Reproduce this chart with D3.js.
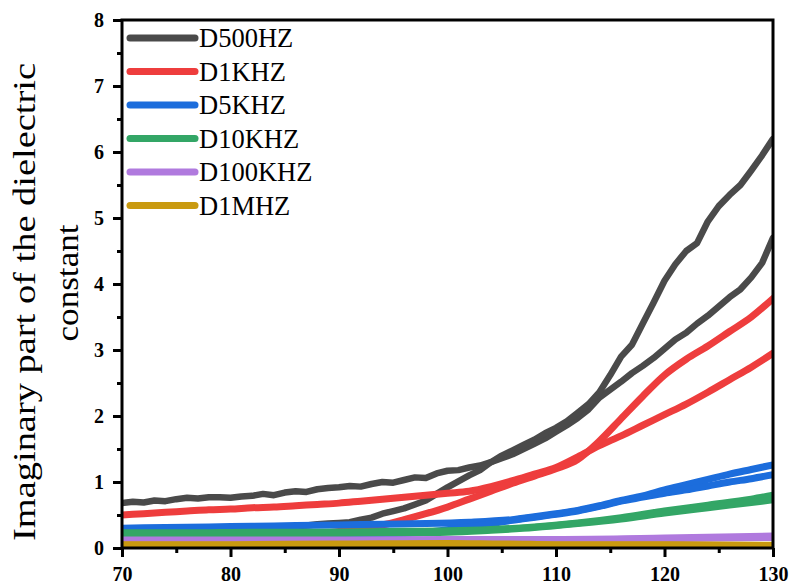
<!DOCTYPE html>
<html>
<head>
    <meta charset="UTF-8">
    <title>Imaginary part of the dielectric constant</title>
    <script src="https://d3js.org/d3.v7.min.js"></script>
    <style>
        body { margin: 0; background: #fff; }
        svg { display: block; }
        .series { fill: none; stroke-linejoin: round; stroke-linecap: round; }
    </style>
</head>
<body>
<script>
// temperatures (1 degree steps) for the noisy 500 Hz runs
const tempsFine = [70, 71, 72, 73, 74, 75, 76, 77, 78, 79, 80, 81, 82, 83, 84, 85, 86, 87, 88, 89,
    90, 91, 92, 93, 94, 95, 96, 97, 98, 99, 100, 101, 102, 103, 104, 105, 106, 107, 108, 109,
    110, 111, 112, 113, 114, 115, 116, 117, 118, 119, 120, 121, 122, 123, 124, 125, 126, 127, 128, 129, 130];
const d500a = [0.68, 0.70, 0.69, 0.72, 0.71, 0.74, 0.76, 0.75, 0.77, 0.77, 0.76, 0.78, 0.79, 0.82, 0.80, 0.84, 0.86, 0.85, 0.89, 0.91,
    0.92, 0.94, 0.93, 0.97, 1.00, 0.99, 1.03, 1.07, 1.06, 1.13, 1.17, 1.18, 1.22, 1.25, 1.30, 1.36, 1.42, 1.50, 1.58, 1.66,
    1.76, 1.86, 1.97, 2.10, 2.28, 2.40, 2.52, 2.65, 2.76, 2.88, 3.02, 3.16, 3.26, 3.40, 3.52, 3.66, 3.80, 3.92, 4.10, 4.32, 4.70];
const d500b = [0.20, 0.21, 0.21, 0.22, 0.22, 0.23, 0.24, 0.24, 0.25, 0.26, 0.27, 0.28, 0.29, 0.30, 0.31, 0.32, 0.33, 0.34, 0.36, 0.37,
    0.38, 0.39, 0.43, 0.46, 0.52, 0.56, 0.60, 0.66, 0.72, 0.82, 0.92, 1.01, 1.10, 1.18, 1.30, 1.40, 1.48, 1.56, 1.64, 1.74,
    1.82, 1.92, 2.05, 2.18, 2.36, 2.62, 2.90, 3.08, 3.40, 3.72, 4.05, 4.30, 4.50, 4.62, 4.95, 5.18, 5.35, 5.50, 5.72, 5.95, 6.20];

// 1 kHz runs, 2 degree steps
const tempsMid = [70, 72, 74, 76, 78, 80, 82, 84, 86, 88, 90, 92, 94, 96, 98, 100, 102, 104, 106, 108,
    110, 112, 114, 116, 118, 120, 122, 124, 126, 128, 130];
const d1ka = [0.50, 0.52, 0.54, 0.56, 0.58, 0.59, 0.61, 0.62, 0.64, 0.66, 0.68, 0.71, 0.74, 0.77, 0.80, 0.83, 0.86, 0.93, 1.02, 1.12,
    1.22, 1.38, 1.55, 1.70, 1.86, 2.02, 2.18, 2.36, 2.55, 2.74, 2.95];
const d1kb = [0.15, 0.15, 0.16, 0.16, 0.17, 0.17, 0.18, 0.19, 0.20, 0.22, 0.25, 0.30, 0.35, 0.43, 0.52, 0.62, 0.74, 0.86, 0.98, 1.09,
    1.20, 1.34, 1.62, 1.96, 2.30, 2.62, 2.86, 3.06, 3.28, 3.50, 3.78];

// 5 kHz runs
const temps5k = [70, 74, 78, 82, 86, 90, 94, 98, 102, 106, 110, 112, 114, 116, 118, 120, 122, 124, 126, 128, 130];
const d5ka = [0.30, 0.31, 0.32, 0.33, 0.34, 0.35, 0.36, 0.37, 0.39, 0.43, 0.52, 0.57, 0.64, 0.72, 0.79, 0.88, 0.96, 1.04, 1.12, 1.19, 1.26];
const d5kb = [0.20, 0.20, 0.20, 0.20, 0.20, 0.20, 0.21, 0.24, 0.32, 0.42, 0.51, 0.56, 0.63, 0.71, 0.77, 0.83, 0.88, 0.94, 1.00, 1.05, 1.11];

// 10 kHz runs
const temps10k = [70, 76, 82, 88, 94, 100, 104, 108, 112, 116, 120, 124, 128, 130];
const d10ka = [0.23, 0.23, 0.24, 0.24, 0.25, 0.26, 0.28, 0.32, 0.38, 0.46, 0.56, 0.65, 0.74, 0.80];
const d10kb = [0.21, 0.21, 0.22, 0.22, 0.23, 0.24, 0.27, 0.31, 0.37, 0.44, 0.53, 0.61, 0.69, 0.73];

// 100 kHz and 1 MHz runs
const tempsHigh = [70, 80, 90, 100, 105, 110, 120, 130];
const d100ka = [0.12, 0.12, 0.12, 0.13, 0.13, 0.13, 0.15, 0.18];
const d100kb = [0.10, 0.11, 0.11, 0.12, 0.12, 0.12, 0.14, 0.16];
const d1ma = [0.05, 0.05, 0.06, 0.06, 0.06, 0.05, 0.05, 0.04];
const d1mb = [0.04, 0.04, 0.05, 0.07, 0.05, 0.04, 0.04, 0.03];

const legendNames = ["D500HZ", "D1KHZ", "D5KHZ", "D10KHZ", "D100KHZ", "D1MHZ"];
const colors = ["#4a4a4a", "#ee3d3d", "#1c6ddc", "#33a666", "#b07ade", "#c99a10"];

const xTicks = [70, 80, 90, 100, 110, 120, 130];
const yTicks = [0, 1, 2, 3, 4, 5, 6, 7, 8];

const series = [
    {x: tempsFine, y: d500a, c: 0, rough: true},
    {x: tempsFine, y: d500b, c: 0, rough: true},
    {x: tempsMid, y: d1ka, c: 1},
    {x: tempsMid, y: d1kb, c: 1},
    {x: temps5k, y: d5ka, c: 2},
    {x: temps5k, y: d5kb, c: 2},
    {x: temps10k, y: d10ka, c: 3},
    {x: temps10k, y: d10kb, c: 3},
    {x: tempsHigh, y: d100ka, c: 4},
    {x: tempsHigh, y: d100kb, c: 4},
    {x: tempsHigh, y: d1ma, c: 5},
    {x: tempsHigh, y: d1mb, c: 5}
];

const W = 792, H = 588;
const m = {left: 122, right: 773, top: 20, bottom: 548};
const SERIF = "Liberation Serif";

const svg = d3.select("body").append("svg").attr("width", W).attr("height", H);

const x = d3.scaleLinear().domain([70, 130]).range([m.left, m.right]);
const y = d3.scaleLinear().domain([0, 8]).range([m.bottom, m.top]);

// clip so the thick lines stay inside the frame
svg.append("clipPath").attr("id", "plot")
   .append("rect").attr("x", m.left).attr("y", m.top)
   .attr("width", m.right - m.left).attr("height", m.bottom - m.top);

const plot = svg.append("g").attr("clip-path", "url(#plot)");
series.forEach(s => {
    const pts = s.x.map((t, i) => [t, s.y[i]]);
    const line = d3.line()
        .x(d => x(d[0])).y(d => y(d[1]))
        .curve(s.rough ? d3.curveLinear : d3.curveMonotoneX);
    plot.append("path")
        .attr("class", "series")
        .attr("d", line(pts))
        .attr("stroke", colors[s.c])
        .attr("stroke-width", s.rough ? 6.5 : 7);
});

function styleAxis(g) {
    g.attr("font-family", null).attr("font-size", null);
    g.select(".domain").remove();
    g.selectAll("line").attr("stroke-width", 3);
    g.selectAll("text")
     .style("font-family", SERIF)
     .style("font-weight", "bold")
     .style("font-size", "20px")
     .attr("fill", "#000");
}

// minor ticks
svg.append("g").attr("transform", `translate(0,${m.bottom})`)
   .call(d3.axisBottom(x).tickValues([75, 85, 95, 105, 115, 125]).tickSize(5).tickFormat(""))
   .call(styleAxis);
svg.append("g").attr("transform", `translate(${m.left},0)`)
   .call(d3.axisLeft(y).tickValues([0.5, 1.5, 2.5, 3.5, 4.5, 5.5, 6.5, 7.5]).tickSize(5).tickFormat(""))
   .call(styleAxis);

// major ticks
svg.append("g").attr("transform", `translate(0,${m.bottom})`)
   .call(d3.axisBottom(x).tickValues(xTicks).tickSize(9).tickPadding(10))
   .call(styleAxis);
svg.append("g").attr("transform", `translate(${m.left},0)`)
   .call(d3.axisLeft(y).tickValues(yTicks).tickSize(9).tickPadding(9))
   .call(styleAxis);

// frame
svg.append("rect")
   .attr("x", m.left).attr("y", m.top)
   .attr("width", m.right - m.left).attr("height", m.bottom - m.top)
   .attr("fill", "none").attr("stroke", "#000").attr("stroke-width", 3);

// y axis title (two lines)
svg.append("text")
   .attr("transform", "translate(35,302) rotate(-90)")
   .attr("text-anchor", "middle")
   .attr("textLength", 478).attr("lengthAdjust", "spacingAndGlyphs")
   .style("font-family", SERIF).style("font-size", "32px")
   .text("Imaginary part of the dielectric");
svg.append("text")
   .attr("transform", "translate(78,283) rotate(-90)")
   .attr("text-anchor", "middle")
   .attr("textLength", 117).attr("lengthAdjust", "spacingAndGlyphs")
   .style("font-family", SERIF).style("font-size", "32px")
   .text("constant");

// legend
const legend = svg.append("g").attr("transform", "translate(130,38)");
legendNames.forEach((name, i) => {
    const row = legend.append("g").attr("transform", `translate(0,${i * 33.5})`);
    row.append("line")
       .attr("x1", 0).attr("x2", 65).attr("y1", 0).attr("y2", 0)
       .attr("stroke", colors[i]).attr("stroke-width", 7).attr("stroke-linecap", "round");
    row.append("text")
       .attr("x", 69).attr("y", 9)
       .style("font-family", SERIF)
       .style("font-size", "26.5px")
       .text(name);
});
</script>
</body>
</html>
